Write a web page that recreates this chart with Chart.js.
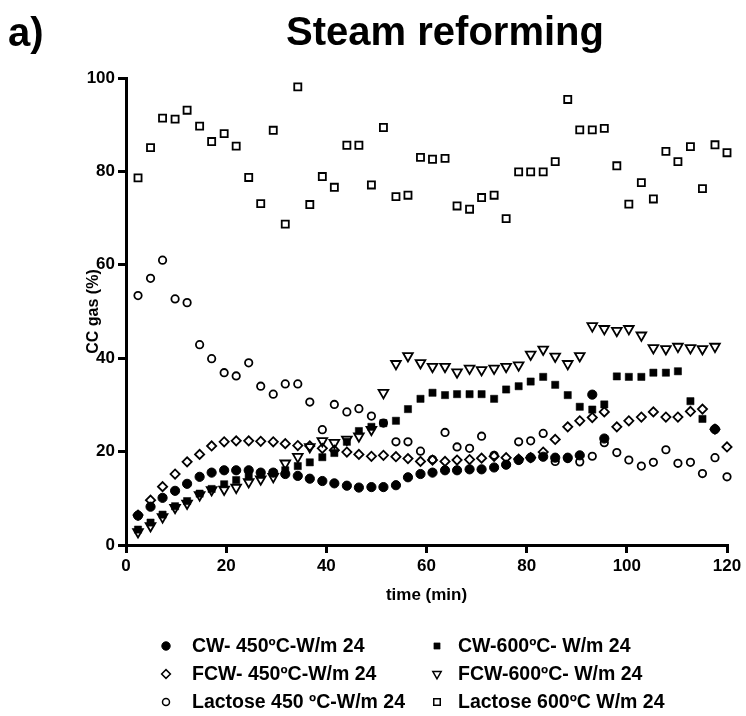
<!DOCTYPE html>
<html>
<head>
<meta charset="utf-8">
<title>Steam reforming</title>
<script src="https://cdn.jsdelivr.net/npm/chart.js@4.4.0/dist/chart.umd.min.js"></script>
<style>
  html, body { margin: 0; padding: 0; background: #fff; }
  canvas { display: block; }
</style>
</head>
<body>
<canvas id="ccGasChart" width="746" height="716"></canvas>
<script>
// sampling times (min)
const times = [2.4, 4.9, 7.3, 9.8, 12.2, 14.7, 17.1, 19.6, 22.0, 24.5,
  26.9, 29.4, 31.8, 34.3, 36.7, 39.2, 41.6, 44.1, 46.5, 49.0,
  51.4, 53.9, 56.3, 58.8, 61.2, 63.7, 66.1, 68.6, 71.0, 73.5,
  75.9, 78.4, 80.8, 83.3, 85.7, 88.2, 90.6, 93.1, 95.5, 98.0,
  100.4, 102.9, 105.3, 107.8, 110.2, 112.7, 115.1, 117.6, 120.0];

// carbon conversion to gas (%), one value per time, null = no measurement
const cw450 = [6.3, 8.2, 10.1, 11.6, 13.1, 14.6, 15.5, 16.0, 16.0, 16.0,
  15.5, 15.5, 15.2, 14.8, 14.2, 13.7, 13.2, 12.7, 12.3, 12.4,
  12.4, 12.8, 14.5, 15.2, 15.5, 16.0, 16.0, 16.2, 16.2, 16.6,
  17.2, 18.2, 18.7, 18.9, 18.7, 18.7, 19.2, 32.2, 22.8, null,
  null, null, null, null, null, null, null, 24.8, null];

const cw600 = [3.3, 4.8, 6.5, 8.3, 9.4, 11.0, 12.0, 13.0, 13.9, 14.6,
  15.0, 15.4, 16.0, 16.9, 17.7, 18.8, 19.7, 22.1, 24.4, 25.3,
  26.1, 26.6, 29.1, 31.3, 32.6, 32.1, 32.3, 32.3, 32.3, 31.3,
  33.3, 34.0, 35.0, 36.0, 34.3, 32.1, 29.6, 29.0, 30.1, 36.1,
  36.0, 36.0, 36.9, 36.9, 37.2, 30.8, 27.0, null, null];

const fcw450 = [6.4, 9.6, 12.5, 15.2, 17.8, 19.4, 21.2, 22.1, 22.3, 22.3,
  22.2, 22.1, 21.7, 21.3, 21.2, 20.7, 20.3, 19.9, 19.4, 19.0,
  19.2, 18.9, 18.5, 17.9, 18.2, 17.9, 18.2, 18.3, 18.6, 19.0,
  18.7, 18.4, 18.7, 19.9, 22.6, 25.3, 26.6, 27.3, 28.5, 25.3,
  26.6, 27.4, 28.5, 27.4, 27.4, 28.6, 29.1, 24.8, 21.0];

const fcw600 = [2.8, 4.1, 6.0, 8.0, 8.9, 10.7, 11.8, 11.9, 12.3, 13.5,
  14.1, 14.6, 17.5, 18.9, 21.0, 22.3, 21.9, 22.6, 23.3, 24.7,
  32.6, 38.8, 40.5, 39.0, 38.2, 38.2, 37.0, 37.8, 37.5, 37.8,
  38.2, 38.5, 40.8, 41.9, 40.4, 38.8, 40.5, 46.9, 46.3, 45.9,
  46.3, 44.9, 42.2, 42.0, 42.5, 42.2, 42.0, 42.5, null];

const lactose450 = [53.4, 57.1, 61.0, 52.7, 51.9, 42.9, 39.9, 36.9, 36.2, 39.0,
  34.0, 32.3, 34.5, 34.5, 30.6, 24.7, 30.1, 28.5, 29.2, 27.6,
  26.1, 22.1, 22.1, 20.1, 18.3, 24.1, 21.0, 20.7, 23.3, 19.2,
  17.2, 22.1, 22.3, 23.9, 17.9, 18.5, 17.8, 19.0, 21.9, 19.8,
  18.2, 16.9, 17.7, 20.4, 17.5, 17.7, 15.3, 18.7, 14.6];

const lactose600 = [78.6, 85.1, 91.4, 91.2, 93.1, 89.7, 86.4, 88.1, 85.4, 78.7,
  73.1, 88.8, 68.7, 98.1, 72.9, 78.9, 76.6, 85.6, 85.6, 77.1,
  89.4, 74.6, 74.9, 83.0, 82.6, 82.8, 72.6, 71.9, 74.4, 74.9,
  69.9, 79.9, 79.9, 79.9, 82.1, 95.4, 88.9, 88.9, 89.2, 81.2,
  73.0, 77.6, 74.1, 84.3, 82.1, 85.3, 76.3, 85.7, 84.0];

const seriesLabels = ['CW- 450ºC-W/m 24', 'CW-600ºC- W/m 24',
  'FCW- 450ºC-W/m 24', 'FCW-600ºC- W/m 24',
  'Lactose 450 ºC-W/m 24', 'Lactose 600ºC W/m 24'];

const xTicks = [0, 20, 40, 60, 80, 100, 120];
const yTicks = [0, 20, 40, 60, 80, 100];

const FONT = "'Liberation Sans', Arial, sans-serif";
const OPEN = 'rgba(0,0,0,0)';

function toPoints(values) {
  const pts = [];
  values.forEach((v, i) => {
    if (v !== null) pts.push({ x: times[i], y: v });
  });
  return pts;
}

function series(label, values, style) {
  return Object.assign({
    label: label,
    data: toPoints(values),
    showLine: false,
    clip: false,
    borderColor: '#000',
    pointBorderColor: '#000'
  }, style);
}

const datasets = [
  series(seriesLabels[0], cw450, { pointStyle: 'circle', pointRadius: 4.6, pointBackgroundColor: '#000', pointBorderWidth: 1, legendRadius: 4.2 }),
  series(seriesLabels[1], cw600, { pointStyle: 'rect', pointRadius: 5.1, pointBackgroundColor: '#000', pointBorderWidth: 0.5, legendRadius: 4.4 }),
  series(seriesLabels[2], fcw450, { pointStyle: 'rectRot', pointRadius: 4.6, pointBackgroundColor: OPEN, pointBorderWidth: 1.8, legendRadius: 4.4 }),
  series(seriesLabels[3], fcw600, { pointStyle: 'triangle', pointRotation: 180, pointRadius: 5.6, pointBackgroundColor: OPEN, pointBorderWidth: 1.8, legendRadius: 4.8 }),
  series(seriesLabels[4], lactose450, { pointStyle: 'circle', pointRadius: 3.7, pointBackgroundColor: OPEN, pointBorderWidth: 1.8, legendRadius: 3.5 }),
  series(seriesLabels[5], lactose600, { pointStyle: 'rect', pointRadius: 5.0, pointBackgroundColor: OPEN, pointBorderWidth: 1.8, legendRadius: 4.6 })
];

// heading and the two-column legend under the axis
const headerAndLegend = {
  id: 'headerAndLegend',
  afterDraw(chart) {
    const ctx = chart.ctx;
    ctx.save();
    ctx.fillStyle = '#000';
    ctx.strokeStyle = '#000';
    ctx.textBaseline = 'alphabetic';
    ctx.font = 'bold 40px ' + FONT;
    ctx.textAlign = 'left';
    ctx.fillText('a)', 8, 46);
    ctx.textAlign = 'center';
    ctx.fillText('Steam reforming', 445, 45);

    const colMarker = [166, 437];
    const colText = [192, 458];
    const rowY = [646, 674, 702];
    ctx.font = 'bold 19.5px ' + FONT;
    ctx.textAlign = 'left';
    ctx.textBaseline = 'middle';
    chart.data.datasets.forEach((ds, i) => {
      const col = i % 2;
      const row = Math.floor(i / 2);
      ctx.fillStyle = ds.pointBackgroundColor;
      ctx.strokeStyle = '#000';
      ctx.lineWidth = Math.min(ds.pointBorderWidth, 1.5);
      Chart.helpers.drawPoint(ctx, {
        pointStyle: ds.pointStyle,
        rotation: ds.pointRotation || 0,
        radius: ds.legendRadius,
        borderWidth: ds.pointBorderWidth
      }, colMarker[col], rowY[row]);
      ctx.fillStyle = '#000';
      ctx.fillText(ds.label, colText[col], rowY[row] + 1);
    });
    ctx.restore();
  }
};

const tickFont = { family: FONT, size: 17, weight: 'bold' };
const titleFont = { family: FONT, size: 16, weight: 'bold' };

new Chart(document.getElementById('ccGasChart'), {
  type: 'scatter',
  data: { datasets: datasets },
  plugins: [headerAndLegend],
  options: {
    responsive: false,
    animation: false,
    events: [],
    layout: { padding: { top: 78, right: 19, bottom: 101, left: 0 } },
    plugins: {
      legend: { display: false },
      title: { display: false },
      tooltip: { enabled: false }
    },
    scales: {
      x: {
        type: 'linear',
        min: 0,
        max: 120,
        afterBuildTicks: s => { s.ticks = xTicks.map(v => ({ value: v })); },
        afterFit: s => { s.height = 70; },
        ticks: { color: '#000', font: tickFont, padding: 3, maxRotation: 0 },
        grid: { drawOnChartArea: false, drawTicks: true, tickLength: 8, lineWidth: 3, color: '#000' },
        border: { width: 3, color: '#000' },
        title: { display: true, text: 'time (min)', color: '#000', font: { family: FONT, size: 17, weight: 'bold' }, padding: { top: 0, bottom: 9 } }
      },
      y: {
        type: 'linear',
        min: 0,
        max: 100,
        afterBuildTicks: s => { s.ticks = yTicks.map(v => ({ value: v })); },
        afterFit: s => { s.width = 126; },
        ticks: { color: '#000', font: tickFont, padding: 3 },
        grid: { drawOnChartArea: false, drawTicks: true, tickLength: 8, lineWidth: 3, color: '#000' },
        border: { width: 3, color: '#000' },
        title: { display: true, text: 'CC gas (%)', color: '#000', font: titleFont, padding: { top: 84, bottom: 0 } }
      }
    }
  }
});
</script>
</body>
</html>
